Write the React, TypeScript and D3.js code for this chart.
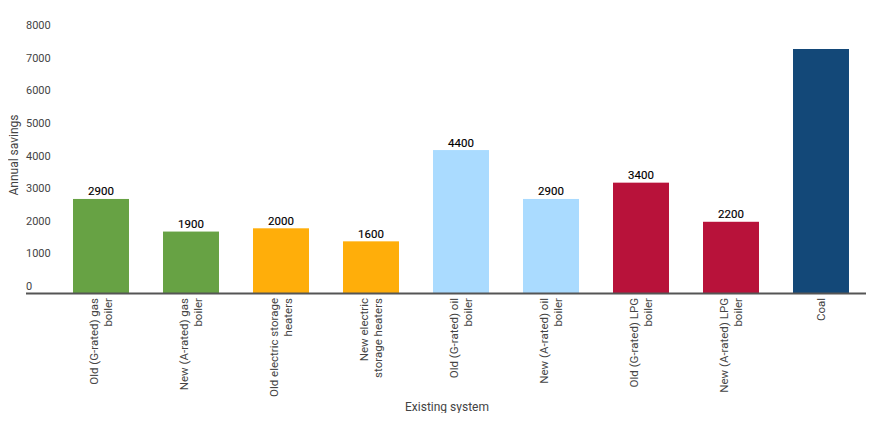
import React, { useEffect, useRef } from 'react';
import * as d3 from 'd3';

const categories = [
    ['Old (G-rated) gas', 'boiler'],
    ['New (A-rated) gas', 'boiler'],
    ['Old electric storage', 'heaters'],
    ['New electric', 'storage heaters'],
    ['Old (G-rated) oil', 'boiler'],
    ['New (A-rated) oil', 'boiler'],
    ['Old (G-rated) LPG', 'boiler'],
    ['New (A-rated) LPG', 'boiler'],
    ['Coal'],
];
const savings = [2900, 1900, 2000, 1600, 4400, 2900, 3400, 2200, 7500];
const valueLabels = ['2900', '1900', '2000', '1600', '4400', '2900', '3400', '2200', ''];
const barColors = ['#67a244', '#67a244', '#ffae0a', '#ffae0a', '#aadbff', '#aadbff', '#b8123a', '#b8123a', '#134878'];
const yTicks = [0, 1000, 2000, 3000, 4000, 5000, 6000, 7000, 8000];

const width = 875;
const height = 421;

const SavingsChart = () => {
    const ref = useRef<SVGSVGElement>(null);

    useEffect(() => {
        const svg = d3.select(ref.current);
        svg.selectAll('*').remove();

        const x = d3.scaleBand<number>()
            .domain(d3.range(categories.length))
            .range([56, 866])
            .paddingInner(0.378)
            .paddingOuter(0.189);

        const y = d3.scaleLinear().domain([0, 8000]).range([293.5, 32.7]);

        const g = svg.append('g').style('font-family', 'Roboto, sans-serif');

        // tick labels sit above their (invisible) grid lines
        g.selectAll('.ytick')
            .data(yTicks)
            .enter()
            .append('text')
            .attr('x', 26)
            .attr('y', (d) => y(d) - 3.5)
            .style('font-size', '11px')
            .style('fill', '#444')
            .text((d) => d);

        g.selectAll('.bar')
            .data(savings)
            .enter()
            .append('rect')
            .attr('x', (_, i) => x(i))
            .attr('y', (d) => y(d))
            .attr('width', x.bandwidth())
            .attr('height', (d) => y(0) - y(d))
            .style('fill', (_, i) => barColors[i]);

        g.selectAll('.value')
            .data(savings)
            .enter()
            .append('text')
            .attr('x', (_, i) => x(i) + x.bandwidth() / 2)
            .attr('y', (d) => y(d) - 3.5)
            .attr('text-anchor', 'middle')
            .style('font-size', '11.5px')
            .style('fill', '#000')
            .style('stroke', '#000')
            .style('stroke-width', 0.15)
            .text((_, i) => valueLabels[i]);

        g.append('line')
            .attr('x1', 26)
            .attr('x2', 866)
            .attr('y1', y(0))
            .attr('y2', y(0))
            .style('stroke', '#555')
            .style('stroke-width', 2);

        const labels = g.selectAll('.xlabel')
            .data(categories)
            .enter()
            .append('text')
            .attr('text-anchor', 'end')
            .attr('transform', (_, i) => `translate(${x(i) + x.bandwidth() / 2}, 298) rotate(-90)`)
            .style('font-size', '11.5px')
            .style('fill', '#444');

        labels.each(function (lines) {
            const t = d3.select(this);
            const offset = -(lines.length - 1) * 7;
            lines.forEach((line, j) => {
                t.append('tspan')
                    .attr('x', 0)
                    .attr('y', offset + j * 14 + 4)
                    .text(line);
            });
        });

        g.append('text')
            .attr('x', 447)
            .attr('y', 411)
            .attr('text-anchor', 'middle')
            .style('font-size', '12px')
            .style('fill', '#444')
            .text('Existing system');

        g.append('text')
            .attr('transform', 'translate(18, 155) rotate(-90)')
            .attr('text-anchor', 'middle')
            .style('font-size', '12px')
            .style('fill', '#444')
            .text('Annual savings');
    }, []);

    return <svg ref={ref} width={width} height={height} style={{ display: 'block' }} />;
};

export default function App() {
    return (
        <div style={{ margin: -8 }}>
            <SavingsChart />
        </div>
    );
}
